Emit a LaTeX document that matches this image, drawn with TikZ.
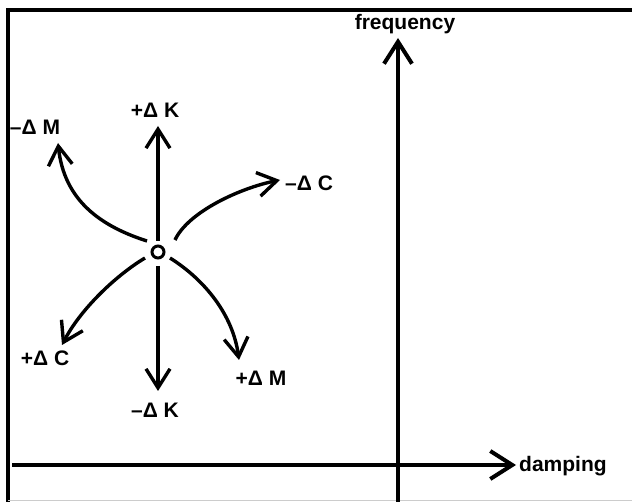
\documentclass[tikz,border=0pt]{standalone}
\usepackage{fontspec}
\setmainfont{Liberation Sans}
\usetikzlibrary{arrows.meta}
\begin{document}
\begin{tikzpicture}[x=1pt,y=-1pt,
  lbl/.style={font=\fontsize{21}{24}\selectfont\bfseries, inner sep=0pt},
  axis/.style={line width=4pt, -{Straight Barb[length=22pt,width=28pt]}},
  chg/.style={line width=3.4pt, -{Straight Barb[length=19pt,width=24pt]}},
  frame/.style={line width=3.6pt}]
\useasboundingbox (0,0) rectangle (632,502);
% frame
\coordinate (tl) at (8,10);
\coordinate (tr) at (632,10);
\coordinate (bl) at (8,502);
\coordinate (bbl) at (8,500.5);
\coordinate (bbr) at (632,500.5);
\draw[frame] (tr) -- (tl) -- (bl);
\draw[gray!40, line width=0.8pt] (bbl) -- (bbr);
% axes
\coordinate (fs) at (398,502);
\coordinate (ft) at (398,38);
\coordinate (ds) at (12,465);
\coordinate (dt) at (516,465);
\draw[axis] (fs) -- (ft);
\draw[axis] (ds) -- (dt);
\node[lbl] (freq) at (405,24) {frequency};
\node[lbl, anchor=west] (damp) at (519,466) {damping};
% centre
\node[circle, draw, line width=3pt, minimum size=12pt, inner sep=0pt] (o) at (158,252) {};
% straight arrows
\coordinate (kps) at (158,241);
\coordinate (kp) at (158,126);
\coordinate (kms) at (158,266);
\coordinate (km) at (158,391);
\draw[chg] (kps) -- (kp);
\draw[chg] (kms) -- (km);
\node[lbl] (lkp) at (155,110) {+Δ K};
\node[lbl] (lkm) at (155,410) {–Δ K};
% curved arrows
\coordinate (mms) at (147,241);
\coordinate (mmt) at (58,143);
\draw[chg] (mms) .. controls (100,226) and (64,200) .. (mmt);
\node[lbl] (lmm) at (35,127) {–Δ M};
\coordinate (cms) at (175,240);
\coordinate (cmt) at (280,180);
\draw[chg] (cms) .. controls (188,212) and (240,188) .. (cmt);
\node[lbl, anchor=west] (lcm) at (285,183) {–Δ C};
\coordinate (cps) at (145,258);
\coordinate (cpt) at (62,345);
\draw[chg] (cps) .. controls (115,276) and (80,310) .. (cpt);
\node[lbl] (lcp) at (45,358) {+Δ C};
\coordinate (mps) at (170,258);
\coordinate (mpt) at (239,360);
\draw[chg] (mps) .. controls (205,280) and (233,315) .. (mpt);
\node[lbl] (lmp) at (261,378) {+Δ M};
\end{tikzpicture}
\end{document}
